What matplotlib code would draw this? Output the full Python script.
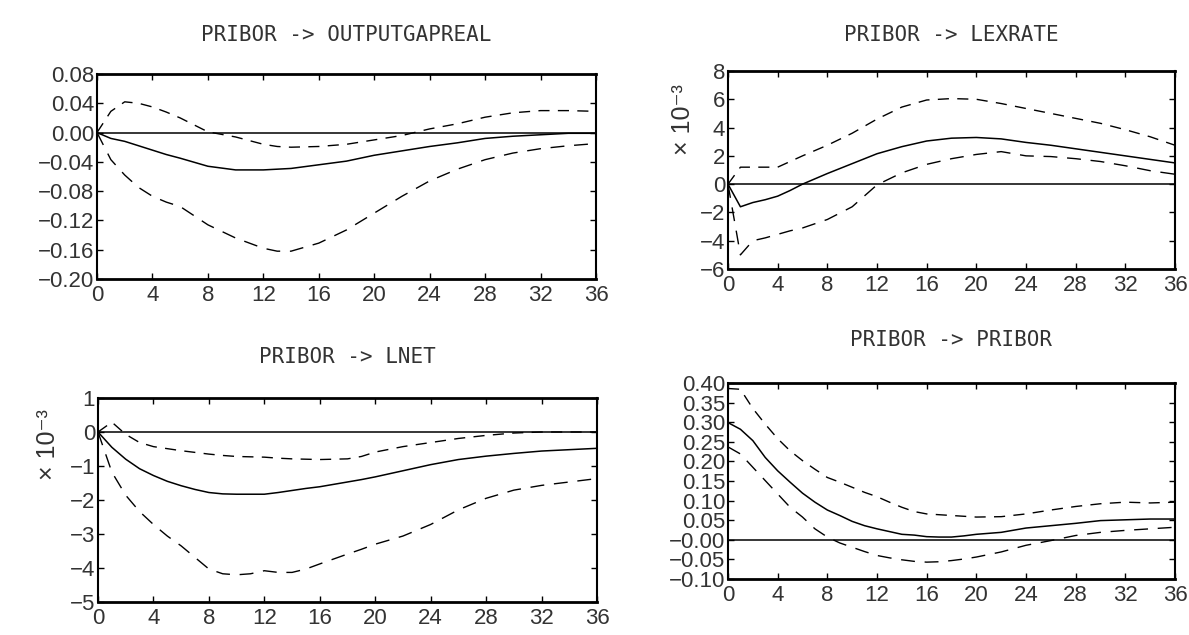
import matplotlib
matplotlib.use("Agg")
import matplotlib.pyplot as plt
from matplotlib.ticker import FixedLocator, FixedFormatter

# ---------------- data ----------------
titles = ["PRIBOR -> OUTPUTGAPREAL", "PRIBOR -> LEXRATE",
          "PRIBOR -> LNET", "PRIBOR -> PRIBOR"]

x_ticks = [0, 4, 8, 12, 16, 20, 24, 28, 32, 36]

# Panel 1: OUTPUTGAPREAL
p1_x = [0, 1, 2, 3, 4, 5, 6, 8, 10, 12, 13, 14, 16, 18, 20, 22, 24, 26, 28, 30, 32, 34, 36]
p1_mid = [0, -0.008, -0.012, -0.018, -0.024, -0.030, -0.035, -0.046, -0.051, -0.051, -0.050,
          -0.049, -0.044, -0.039, -0.031, -0.025, -0.019, -0.014, -0.008, -0.005, -0.003,
          -0.001, -0.001]
p1_up = [0, 0.029, 0.042, 0.040, 0.035, 0.028, 0.020, 0.001, -0.006, -0.016, -0.019, -0.020,
         -0.019, -0.016, -0.010, -0.004, 0.005, 0.012, 0.021, 0.027, 0.030, 0.030, 0.029]
p1_lo = [0, -0.037, -0.058, -0.075, -0.087, -0.095, -0.101, -0.126, -0.144, -0.158, -0.162,
         -0.162, -0.151, -0.133, -0.110, -0.087, -0.066, -0.050, -0.037, -0.028, -0.022,
         -0.018, -0.015]
p1_yticks = [-0.20, -0.16, -0.12, -0.08, -0.04, 0.00, 0.04, 0.08]
p1_ylabels = ["\u22120.20", "\u22120.16", "\u22120.12", "\u22120.08", "\u22120.04",
              "0.00", "0.04", "0.08"]

# Panel 2: LEXRATE (x 10^-3)
p2_x = [0, 1, 2, 3, 4, 5, 6, 8, 10, 12, 14, 16, 18, 20, 22, 24, 26, 28, 30, 32, 34, 36]
p2_mid = [0, -1.6, -1.3, -1.1, -0.85, -0.45, 0.0, 0.75, 1.45, 2.15, 2.65, 3.05, 3.25, 3.3,
          3.2, 2.95, 2.75, 2.5, 2.25, 2.0, 1.75, 1.5]
p2_up = [0, 1.2, 1.2, 1.2, 1.2, 1.6, 2.0, 2.75, 3.6, 4.6, 5.45, 5.95, 6.05, 6.0, 5.7, 5.35,
         5.0, 4.65, 4.3, 3.85, 3.35, 2.75]
p2_lo = [0, -5.0, -4.0, -3.8, -3.55, -3.3, -3.1, -2.5, -1.6, -0.05, 0.8, 1.4, 1.8, 2.1, 2.3,
         2.0, 1.95, 1.8, 1.6, 1.3, 0.95, 0.7]
p2_yticks = [-6, -4, -2, 0, 2, 4, 6, 8]
p2_ylabels = ["\u22126", "\u22124", "\u22122", "0", "2", "4", "6", "8"]

# Panel 3: LNET (x 10^-3)
p3_x = [0, 1, 2, 3, 4, 5, 6, 7, 8, 9, 10, 11, 12, 13, 14, 15, 16, 18, 19, 20, 22, 24, 26,
        28, 30, 32, 34, 36]
p3_mid = [0, -0.45, -0.8, -1.08, -1.28, -1.45, -1.58, -1.69, -1.78, -1.82, -1.83, -1.83,
          -1.83, -1.78, -1.72, -1.66, -1.61, -1.47, -1.40, -1.32, -1.14, -0.96, -0.81,
          -0.71, -0.63, -0.56, -0.52, -0.48]
p3_up = [0, 0.29, -0.07, -0.31, -0.43, -0.49, -0.55, -0.60, -0.65, -0.69, -0.72, -0.73,
         -0.74, -0.77, -0.79, -0.80, -0.81, -0.79, -0.72, -0.59, -0.43, -0.31, -0.19,
         -0.10, -0.03, 0.0, 0.0, 0.0]
p3_lo = [0, -1.18, -1.86, -2.34, -2.72, -3.06, -3.35, -3.69, -4.03, -4.17, -4.2, -4.17,
         -4.08, -4.13, -4.13, -4.03, -3.88, -3.59, -3.45, -3.3, -3.06, -2.72, -2.29, -1.95,
         -1.71, -1.57, -1.47, -1.37]
p3_yticks = [-5, -4, -3, -2, -1, 0, 1]
p3_ylabels = ["\u22125", "\u22124", "\u22123", "\u22122", "\u22121", "0", "1"]

# Panel 4: PRIBOR
p4_x = [0, 1, 2, 3, 4, 5, 6, 7, 8, 9, 10, 11, 12, 13, 14, 15, 16, 17, 18, 19, 20, 22, 24,
        26, 28, 30, 32, 34, 36]
p4_mid = [0.299, 0.282, 0.253, 0.210, 0.176, 0.147, 0.119, 0.096, 0.076, 0.062, 0.047,
          0.036, 0.028, 0.021, 0.014, 0.012, 0.008, 0.007, 0.007, 0.010, 0.014, 0.019,
          0.030, 0.036, 0.042, 0.049, 0.051, 0.053, 0.053]
p4_up = [0.386, 0.384, 0.335, 0.295, 0.258, 0.227, 0.202, 0.180, 0.159, 0.147, 0.134,
         0.121, 0.110, 0.096, 0.083, 0.072, 0.066, 0.064, 0.062, 0.060, 0.058, 0.059,
         0.066, 0.076, 0.085, 0.092, 0.096, 0.094, 0.096]
p4_lo = [0.237, 0.219, 0.185, 0.151, 0.117, 0.083, 0.058, 0.028, 0.007, -0.008, -0.019,
         -0.030, -0.040, -0.046, -0.051, -0.055, -0.057, -0.056, -0.053, -0.049, -0.044,
         -0.031, -0.014, -0.002, 0.011, 0.019, 0.024, 0.028, 0.032]
p4_yticks = [-0.10, -0.05, 0.00, 0.05, 0.10, 0.15, 0.20, 0.25, 0.30, 0.35, 0.40]
p4_ylabels = ["\u22120.10", "\u22120.05", "\u22120.00", "0.05", "0.10", "0.15", "0.20",
              "0.25", "0.30", "0.35", "0.40"]

scale_label = "\u00d7 10\u207b\u00b3"

# ---------------- layout ----------------
W, H = 1189, 635
fig = plt.figure(figsize=(W / 100, H / 100), dpi=100)
fig.patch.set_facecolor("white")

tick_font = ["Liberation Sans", "DejaVu Sans"]
title_font = ["DejaVu Sans Mono", "DejaVu Sans"]


def box(l, r, t, b):
    return [l / W, 1 - b / H, (r - l) / W, (b - t) / H]


panels = [
    dict(rect=box(97, 596, 74, 279), x=p1_x, mid=p1_mid, up=p1_up, lo=p1_lo,
         ylim=(-0.20, 0.08), yt=p1_yticks, yl=p1_ylabels, title=titles[0], ty=35,
         scale=None),
    dict(rect=box(728, 1175, 71, 269), x=p2_x, mid=p2_mid, up=p2_up, lo=p2_lo,
         ylim=(-6, 8), yt=p2_yticks, yl=p2_ylabels, title=titles[1], ty=35,
         scale=(683, 120)),
    dict(rect=box(98, 597, 398, 602), x=p3_x, mid=p3_mid, up=p3_up, lo=p3_lo,
         ylim=(-5, 1), yt=p3_yticks, yl=p3_ylabels, title=titles[2], ty=357,
         scale=(48, 445)),
    dict(rect=box(728, 1175, 383, 579), x=p4_x, mid=p4_mid, up=p4_up, lo=p4_lo,
         ylim=(-0.10, 0.40), yt=p4_yticks, yl=p4_ylabels, title=titles[3], ty=340,
         scale=None),
]

for p in panels:
    ax = fig.add_axes(p["rect"])
    ax.set_xlim(0, 36)
    ax.set_ylim(*p["ylim"])
    ax.axhline(0, color="black", lw=1.1, zorder=2)
    ax.plot(p["x"], p["mid"], color="black", lw=1.1, zorder=3)
    ax.plot(p["x"], p["up"], color="black", lw=1.0, dashes=(8, 6), zorder=3)
    ax.plot(p["x"], p["lo"], color="black", lw=1.0, dashes=(10, 7), zorder=3)

    ax.xaxis.set_major_locator(FixedLocator(x_ticks))
    ax.xaxis.set_major_formatter(FixedFormatter([str(v) for v in x_ticks]))
    ax.yaxis.set_major_locator(FixedLocator(p["yt"]))
    ax.yaxis.set_major_formatter(FixedFormatter(p["yl"]))
    ax.tick_params(axis="both", direction="in", length=4, width=1, top=True,
                   right=True, labelsize=16, colors="black")
    ax.tick_params(axis="x", pad=4)
    ax.tick_params(axis="y", pad=2)
    for lab in ax.get_xticklabels() + ax.get_yticklabels():
        lab.set_family(tick_font)
        lab.set_color("#333333")

    for side, sp in ax.spines.items():
        sp.set_color("black")
        sp.set_linewidth(2.0 if side in ("top", "bottom") else 1.5)

    cx = (p["rect"][0] + p["rect"][2] / 2)
    fig.text(cx, 1 - p["ty"] / H, p["title"], ha="center", va="center",
             fontsize=15, family=title_font, color="#333333")
    if p["scale"] is not None:
        sx, sy = p["scale"]
        fig.text(sx / W, 1 - sy / H, scale_label, rotation=90, ha="center",
                 va="center", fontsize=18, family=tick_font, color="#333333")

fig.savefig("out.png", dpi=100, facecolor="white")
